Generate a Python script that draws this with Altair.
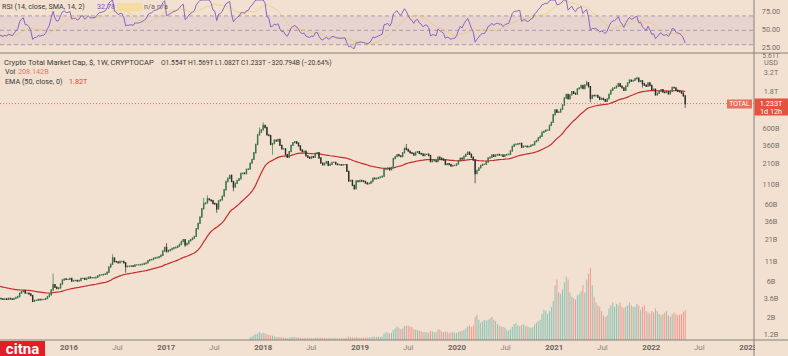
import altair as alt
import pandas as pd
import numpy as np

# ---------------- data (weekly closes, billions USD) ----------------
close_2015 = [3.50, 3.45, 3.40, 3.45, 3.40, 3.50, 3.45, 3.40, 3.50, 3.60, 3.70, 4.10,
              4.30, 4.40, 4.10, 4.10, 4.00, 3.80, 3.20, 3.30, 3.30, 3.40, 3.35, 3.40,
              3.40, 3.50, 3.70, 3.90, 4.50, 5.30, 4.90, 4.70, 4.80, 5.40, 6.10, 6.30,
              6.20, 6.20]
close_2016 = [6.40, 5.90, 6.00, 6.00,
              5.90, 6.00, 6.40, 6.40, 6.20,
              6.40, 6.60, 6.50, 6.50,
              6.50, 6.60, 6.90, 7.10,
              7.10, 7.20, 7.30, 7.70, 9.00,
              9.80, 11.80, 10.60, 10.50,
              10.20, 10.60, 10.60, 10.20,
              9.10, 9.20, 9.20, 9.30, 9.20,
              9.60, 9.60, 9.60, 9.70,
              9.80, 10.00, 10.20, 10.90, 11.20,
              11.30, 11.70, 11.90, 12.00,
              12.30, 12.80, 14.60, 16.20]
close_2017 = [14.3, 14.8, 15.2, 15.7, 16.1,
              16.3, 16.9, 17.8, 19.4,
              20.4, 17.6, 18.3, 19.8,
              20.6, 21.5, 22.6, 28.5,
              33.5, 40.5, 52.0, 60.5, 62.0,
              70.0, 68.0, 66.0, 61.0,
              60.0, 52.0, 66.0, 68.0, 76.0,
              92.0, 118.0, 130.0, 142.0,
              118.0, 100.0, 112.0, 122.0,
              128.0, 150.0, 152.0, 150.0, 170.0,
              172.0, 205.0, 230.0, 280.0,
              360.0, 480.0, 520.0, 560.0]
close_2018 = [640, 600, 480, 470, 360,
              370, 410, 400, 420,
              350, 315, 315, 265,
              245, 290, 350, 380, 390,
              375, 345, 305, 290,
              295, 255, 245, 238,
              250, 245, 275, 280, 240,
              205, 195, 205, 215,
              192, 198, 210, 210,
              200, 196, 196, 194, 196,
              196, 160, 120, 122,
              105, 95, 120, 118, 122]
close_2019 = [120, 118, 113, 110,
              112, 118, 130, 128,
              130, 133, 135, 138,
              170, 172, 176, 168, 180,
              235, 250, 265, 255,
              250, 280, 320, 310,
              295, 280, 275, 262, 285,
              290, 275, 270, 258,
              268, 268, 258, 215, 220,
              220, 215, 245, 238,
              232, 225, 197, 202,
              197, 188, 192, 192, 200]
close_2020 = [220, 238, 232, 252,
              268, 285, 268, 245,
              225, 150, 165, 178, 192,
              198, 198, 212, 240,
              245, 262, 252, 262,
              266, 262, 262, 252, 262,
              266, 268, 296, 340,
              360, 362, 368, 372, 332,
              342, 342, 336, 340,
              352, 358, 392, 405,
              440, 462, 520, 535, 555,
              555, 640, 700, 880]
close_2021 = [1020, 950, 955, 1040,
              1180, 1460, 1620, 1420,
              1600, 1760, 1680, 1640, 1920,
              1980, 2120, 1940, 2160,
              2300, 2050, 1450, 1580, 1560,
              1580, 1490, 1400, 1440,
              1390, 1320, 1420, 1640,
              1840, 1960, 1980, 2080, 2250,
              2080, 1980, 1840, 2080,
              2300, 2500, 2420, 2480,
              2600, 2650, 2400, 2450, 2250,
              2150, 2080, 2300, 2120]
close_2022 = [1880, 1900, 1600, 1680, 1800,
              1870, 1740, 1720, 1760,
              1650, 1790, 2000, 1980,
              1840, 1790, 1760, 1690,
              1554, 1233]
OPEN_FIRST = 3.55

wick_high = {"2015-11-02": 7.4, "2016-06-13": 13.2, "2017-01-02": 18.5, "2017-05-22": 72,
             "2017-06-05": 78, "2017-12-18": 600, "2018-01-01": 700, "2019-06-24": 365,
             "2021-05-03": 2450, "2021-11-08": 2770, "2022-05-09": 1569}
wick_low = {"2016-08-01": 7.6, "2017-03-13": 16.5, "2017-07-10": 46, "2017-09-11": 88,
            "2018-02-05": 265, "2020-03-09": 112, "2021-05-17": 1280, "2021-11-29": 2000,
            "2022-05-09": 1082}

# weekly volume (billions), starting week of 2017-11-13
vol_2017 = [20, 25, 35, 40, 45, 55, 45]
vol_2018 = [50, 45, 40, 35, 32, 30, 25, 22, 20, 20, 18, 17, 16, 14, 16, 20, 22, 20,
            18, 17, 16, 14, 14, 13, 14, 13, 13, 14, 16, 17, 15, 15, 14, 13, 13,
            13, 14, 13, 13, 12, 12, 11, 12, 12, 12, 18, 24, 20, 18, 17, 20, 17, 16]
vol_2019 = [16, 17, 16, 17, 18, 20, 24, 22, 22, 23, 22, 24, 45, 55, 50, 45, 50,
            70, 80, 95, 85, 75, 80, 95, 100, 100, 95, 90, 75, 70, 70, 65, 60, 55,
            55, 55, 50, 65, 60, 55, 55, 75, 70, 60, 55, 60, 55, 50, 50, 55, 50, 50]
vol_2020 = [55, 60, 65, 70, 80, 95, 100, 90, 100, 160, 175, 140, 120, 130, 140, 135, 140,
            150, 160, 140, 130, 110, 100, 95, 90, 85, 70, 65, 75, 90, 110, 115, 100, 95, 105,
            110, 100, 95, 90, 85, 90, 110, 120, 130, 140, 180, 210, 200, 180, 200, 230, 270]
vol_2021 = [380, 420, 330, 320, 350, 400, 440, 420, 330, 300, 290, 280, 310,
            320, 340, 380, 330, 420, 460, 500, 380, 300, 260, 240, 230, 200,
            170, 160, 170, 220, 240, 260, 230, 250, 240, 260, 230, 220, 230,
            240, 260, 240, 230, 230, 250, 240, 210, 230, 240, 200, 190, 180]
vol_2022 = [200, 190, 220, 200, 180, 170, 180, 190, 200, 170, 160, 180, 190,
            180, 170, 175, 180, 195, 208.142]

EMA_START = 5.1    # EMA(50) value at left edge of the picture
RSI_SEED = (0.08, 0.10)  # avg gain / avg loss at left edge

price_ticks = [3200, 1800, 600, 360, 210, 110, 60, 36, 21, 11, 6, 3.6, 2, 1.2]
price_tick_labels = ["3.2T", "1.8T", "600B", "360B", "210B", "110B", "60B",
                     "36B", "21B", "11B", "6B", "3.6B", "2B", "1.2B"]
rsi_ticks = [75, 50, 25]
rsi_tick_labels = ["75.00", "50.00", "25.00"]
rsi_levels = [70, 50, 30]
time_tick_dates = ["2016-01-01", "2016-07-01", "2017-01-01", "2017-07-01", "2018-01-01",
                   "2018-07-01", "2019-01-01", "2019-07-01", "2020-01-01", "2020-07-01",
                   "2021-01-01", "2021-07-01", "2022-01-01", "2022-07-01", "2023-01-01"]
time_tick_labels = ["2016", "Jul", "2017", "Jul", "2018", "Jul", "2019", "Jul", "2020",
                    "Jul", "2021", "Jul", "2022", "Jul", "2023"]
LAST_PRICE = 1233

# ---------------- build tables ----------------
def ms(d):
    return int((pd.Timestamp(d) - pd.Timestamp("1970-01-01")) // pd.Timedelta("1ms"))

closes = close_2015 + close_2016 + close_2017 + close_2018 + close_2019 + close_2020 + close_2021 + close_2022
dates = pd.date_range("2015-04-13", periods=len(closes), freq="7D")
df = pd.DataFrame({"date": dates, "close": closes})
df["open"] = [OPEN_FIRST] + closes[:-1]
df["high"] = df[["open", "close"]].max(axis=1)
df["low"] = df[["open", "close"]].min(axis=1)
for d, v in wick_high.items():
    df.loc[df.date == pd.Timestamp(d), "high"] = v
for d, v in wick_low.items():
    df.loc[df.date == pd.Timestamp(d), "low"] = v
df["t"] = [ms(d) for d in df.date]
df["ccol"] = np.where(df.close >= df.open, "#3b7446", "#2b2b2b")
df["vcol"] = np.where(df.close >= df.open, "#26a69a", "#ef5350")

alpha = 2 / 51
e = EMA_START
ema = []
for c in closes:
    e = e + alpha * (c - e)
    ema.append(e)
df["ema"] = ema

ag, al = RSI_SEED
rsi = []
prev = OPEN_FIRST
for c in closes:
    dlt = c - prev
    ag = (ag * 13 + max(dlt, 0)) / 14
    al = (al * 13 + max(-dlt, 0)) / 14
    rsi.append(100 - 100 / (1 + ag / al) if al > 0 else 100)
    prev = c
df["rsi"] = rsi
df["rsima"] = pd.Series(rsi).rolling(14, min_periods=1).mean()

vols = vol_2017 + vol_2018 + vol_2019 + vol_2020 + vol_2021 + vol_2022
vdf = pd.DataFrame({"date": pd.date_range("2017-11-13", periods=len(vols), freq="7D"), "vol": vols})
vdf = vdf.merge(df[["date", "t", "vcol"]], on="date", how="left")
vdf["v0"] = 0.0

T0, T1 = ms("2015-04-16"), ms("2023-01-23")
pt = pd.DataFrame({"v": price_ticks, "lab": price_tick_labels})
rt = pd.DataFrame({"v": rsi_ticks, "lab": rsi_tick_labels})
rl = pd.DataFrame({"v": rsi_levels})
tt = pd.DataFrame({"t": [ms(d) for d in time_tick_dates], "lab": time_tick_labels})
tt["yr"] = [l != "Jul" for l in time_tick_labels]
band = pd.DataFrame({"lo": [30], "hi": [70]})
lp = pd.DataFrame({"v": [LAST_PRICE]})
one = pd.DataFrame({"a": [0]})

# ---------------- scales ----------------
BG = "#f2e1d1"
FONT = "Roboto"
GRID = "#85807b"
AX = "#766f69"
HS = 7.2  # header font size
xs = alt.Scale(domain=[T0, T1], range=[0, 754], nice=False, zero=False)
X = alt.X("t:Q", scale=xs, axis=None)
ps = alt.Scale(type="log", domain=[1, 5650], range=[340, 53], nice=False)
rs = alt.Scale(domain=[18.5, 92.1], range=[53, 0], nice=False, zero=False, clamp=True)
vs = alt.Scale(domain=[0, 555], range=[340, 260], nice=False, zero=False)


def txt(s, x, y, color="#3a3a3a", size=HS, align="left", weight="normal"):
    return alt.Chart(one).mark_text(align=align, baseline="middle", font=FONT, fontSize=size,
                                     color=color, fontWeight=weight).encode(
        x=alt.value(x), y=alt.value(y), text=alt.value(s))


def rect(x, x2, y, y2, color, opacity=1.0):
    return alt.Chart(one).mark_rect(color=color, opacity=opacity).encode(
        x=alt.value(x), x2=alt.value(x2), y=alt.value(y), y2=alt.value(y2))


def hline(x, x2, y, color=GRID, w=1):
    return alt.Chart(one).mark_rule(color=color, strokeWidth=w).encode(
        x=alt.value(x), x2=alt.value(x2), y=alt.value(y))


def vline(x, y, y2, color=GRID, w=1):
    return alt.Chart(one).mark_rule(color=color, strokeWidth=w).encode(
        x=alt.value(x), y=alt.value(y), y2=alt.value(y2))


layers = []
# RSI pane
layers.append(alt.Chart(band).mark_rect(color="#7e57c2", opacity=0.09).encode(
    x=alt.value(0), x2=alt.value(754), y=alt.Y("lo:Q", scale=rs, axis=None), y2="hi:Q"))
layers.append(alt.Chart(rl).mark_rule(color="#9a8ca3", strokeDash=[4, 3], strokeWidth=0.8).encode(
    x=alt.value(0), x2=alt.value(754), y=alt.Y("v:Q", scale=rs, axis=None)))
layers.append(alt.Chart(df).mark_line(color="#f2c14e", strokeWidth=1, opacity=0.55).encode(
    x=X, y=alt.Y("rsima:Q", scale=rs, axis=None)))
layers.append(alt.Chart(df).mark_line(color="#7e57c2", strokeWidth=0.9).encode(
    x=X, y=alt.Y("rsi:Q", scale=rs, axis=None)))
# volume
layers.append(alt.Chart(vdf).mark_rule(strokeWidth=1.0, opacity=0.5).encode(
    x=X, y=alt.Y("vol:Q", scale=vs, axis=None), y2="v0:Q", color=alt.Color("vcol:N", scale=None)))
# last price line
layers.append(alt.Chart(lp).mark_rule(color="#e8735f", strokeDash=[1, 2], strokeWidth=1).encode(
    x=alt.value(0), x2=alt.value(754), y=alt.Y("v:Q", scale=ps, axis=None)))
# EMA
layers.append(alt.Chart(df).mark_line(color="#c62d2d", strokeWidth=1.2).encode(
    x=X, y=alt.Y("ema:Q", scale=ps, axis=None)))
# candles
layers.append(alt.Chart(df).mark_rule(strokeWidth=0.7).encode(
    x=X, y=alt.Y("low:Q", scale=ps, axis=None), y2="high:Q", color=alt.Color("ccol:N", scale=None)))
layers.append(alt.Chart(df).mark_rule(strokeWidth=1.4, strokeCap="square").encode(
    x=X, y=alt.Y("open:Q", scale=ps, axis=None), y2="close:Q", color=alt.Color("ccol:N", scale=None)))

# headers
layers += [
    txt("RSI (14, close, SMA, 14, 2)", 2, 7),
    txt("32.78", 97, 7, color="#7e57c2"),
    rect(117, 142, 3, 11.5, "#f6dc9a", 0.9),
    txt("n/a", 144, 7, color="#6a5f58"),
    txt("n/a", 157, 7, color="#6a5f58"),
    txt("Crypto Total Market Cap, $, 1W, CRYPTOCAP", 4, 62.5, size=7.6),
    txt("O1.554T  H1.569T  L1.082T  C1.233T  \u2212320.794B (\u221220.64%)", 161, 62.5, size=6.7),
    txt("Vol", 5, 72),
    txt("208.142B", 18, 72, color="#e07a6a"),
    txt("EMA (50, close, 0)", 5, 82),
    txt("1.82T", 69, 82, color="#d94535"),
]

# time axis labels
layers.append(alt.Chart(tt).transform_filter("datum.yr").mark_text(
    font=FONT, fontSize=7.8, fontWeight="bold", color="#6b645e", baseline="middle").encode(
    x=alt.X("t:Q", scale=xs, axis=None), y=alt.value(348), text="lab:N"))
layers.append(alt.Chart(tt).transform_filter("!datum.yr").mark_text(
    font=FONT, fontSize=7.8, color="#8a837c", baseline="middle").encode(
    x=alt.X("t:Q", scale=xs, axis=None), y=alt.value(348), text="lab:N"))
layers.append(rect(755, 788, 341, 356, BG))

# right axis labels
layers.append(alt.Chart(pt).mark_text(font=FONT, fontSize=7.3, color=AX, baseline="middle", dy=1.5).encode(
    x=alt.value(771), y=alt.Y("v:Q", scale=ps, axis=None), text="lab:N"))
layers.append(txt("5.61T", 771, 55.5, color=AX, size=6.8, align="center"))
layers.append(txt("USD", 771, 63, color=AX, size=7.3, align="center"))
layers.append(alt.Chart(rt).mark_text(font=FONT, fontSize=7.3, color=AX, baseline="middle").encode(
    x=alt.value(771), y=alt.Y("v:Q", scale=rs, axis=None), text="lab:N"))

# separators
layers += [hline(0, 788, 53), hline(0, 788, 340), vline(754, 0, 356)]

# price tags
layers += [
    rect(727, 752, 99.5, 108.5, "#e8705d"),
    txt("TOTAL", 739.5, 104, color="white", size=6.8, align="center"),
    rect(754.5, 788, 98.5, 115.5, "#e3533f"),
    txt("1.233T", 771, 103.5, color="white", size=7.3, align="center"),
    txt("1d 12h", 771, 111.5, color="white", size=7.3, align="center"),
]

# logo
layers += [
    rect(0, 45, 341, 356, "#e01f26"),
    txt("citna", 22.5, 348.5, color="white", size=15, align="center", weight="bold"),
]

chart = alt.layer(*layers).properties(
    width=788, height=356, padding=0, autosize="none", background=BG
).resolve_scale(y="independent").configure_view(stroke=None)

chart.save("out.html", embed_options={"renderer": "svg", "actions": False})
